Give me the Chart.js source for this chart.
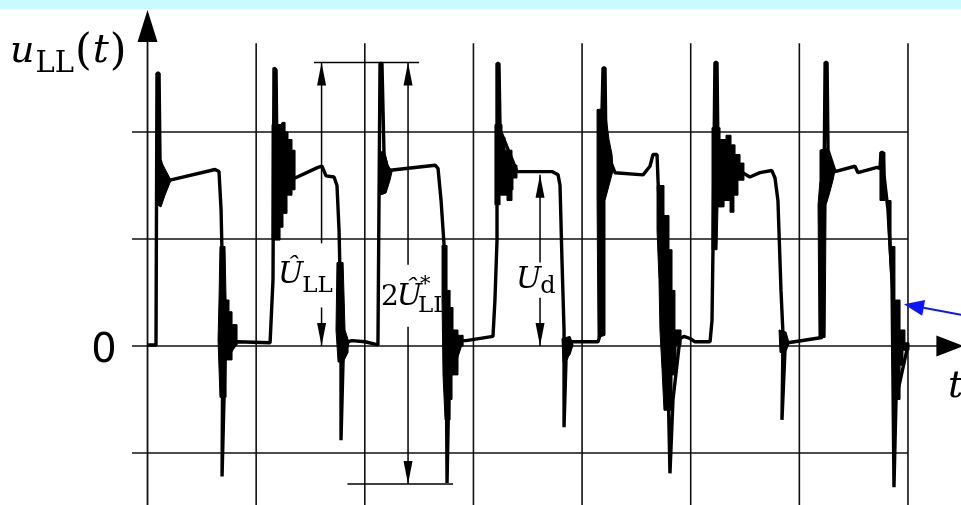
<!DOCTYPE html>
<html>
<head>
<meta charset="utf-8">
<script src="https://cdn.jsdelivr.net/npm/chart.js@4.4.1/dist/chart.umd.min.js"></script>
<style>
  html, body { margin: 0; padding: 0; background: #fff; overflow: hidden; }
  canvas { display: block; }
</style>
</head>
<body>
<canvas id="chart" width="961" height="505"></canvas>
<script>
// Line-to-line voltage u_LL(t) at the inverter output: PWM pulses with
// switching overshoot and high-frequency ringing on every edge.
// Time axis: 10 units per grid division. Voltage axis: 1 unit per grid division.

// ---- main trace, one pair of arrays per pulse ----
const pulse1T = [0.05, 0.78, 0.87, 1.06, 1.15, 1.70, 2.07, 6.21, 6.58, 6.77, 6.95, 6.86, 7.13, 8.24, 11.28];
const pulse1V = [0.01, 0.01, 2.55, 2.55, 1.74, 1.55, 1.55, 1.65, 1.63, 1.27, 0.43, -1.22, -0.13, 0.04, 0.03];

const pulse2T = [11.55, 11.64, 11.83, 11.92, 13.58, 15.69, 16.06, 16.43, 17.17, 17.44, 17.63, 17.81, 17.81, 18.00, 18.46, 18.82, 20.02, 21.21];
const pulse2V = [0.62, 2.60, 2.58, 1.74, 1.57, 1.67, 1.68, 1.59, 1.58, 1.50, 1.08, 0.24, -0.88, -0.13, 0.04, 0.05, 0.04, 0.01];

const pulse3T = [21.40, 21.58, 21.77, 22.14, 26.47, 26.74, 27.02, 27.30, 27.48, 27.57, 27.75, 28.95, 29.32, 31.80];
const pulse3V = [2.64, 2.64, 1.79, 1.64, 1.69, 1.66, 1.36, 0.94, 0.24, -1.28, -0.32, 0.05, 0.05, 0.09];

const pulse4T = [31.98, 32.17, 32.17, 32.35, 32.45, 34.01, 37.23, 37.79, 37.97, 38.15, 38.34, 38.34, 38.52, 39.08, 41.47];
const pulse4V = [0.43, 0.99, 2.64, 2.64, 2.02, 1.63, 1.63, 1.60, 1.50, 0.80, 0.15, -0.76, -0.13, 0.04, 0.04];

const pulse5T = [41.65, 41.84, 41.93, 42.11, 42.20, 43.03, 45.61, 46.25, 46.53, 46.90, 46.99, 47.36, 47.91, 48.09, 48.37, 49.01, 49.38, 49.93, 50.39, 51.78];
const pulse5V = [0.10, 2.21, 2.60, 2.60, 1.83, 1.62, 1.60, 1.68, 1.79, 1.79, 1.55, 0.80, -0.32, -1.19, -0.50, 0.07, 0.09, 0.07, 0.04, 0.04];

const pulse6T = [51.96, 52.05, 52.23, 52.42, 52.51, 54.62, 55.45, 56.37, 57.47, 57.76, 58.03, 58.31, 58.50, 58.40, 58.68, 58.96, 62.09];
const pulse6V = [0.24, 0.90, 2.65, 2.65, 1.83, 1.63, 1.58, 1.62, 1.64, 1.57, 1.36, 0.52, 0.10, -0.69, -0.04, 0.03, 0.08];

const pulse7T = [62.18, 62.37, 62.55, 62.64, 63.28, 65.12, 65.40, 67.15, 67.42, 67.52, 67.70, 67.79, 68.16, 68.53, 68.71, 68.90, 70.00];
const pulse7V = [0.43, 2.65, 2.65, 1.83, 1.63, 1.68, 1.62, 1.67, 1.66, 1.81, 1.81, 1.60, 1.27, 0.62, -1.32, -0.50, 0.01];

// ---- envelopes of the ringing bursts (closed outlines) ----
const ring1aT = [0.87, 1.43, 2.16, 1.61, 1.24, 0.87];
const ring1aV = [1.79, 1.69, 1.55, 1.41, 1.30, 1.32];
const ring1bT = [6.67, 7.13, 7.23, 7.50, 7.50, 7.78, 7.78, 8.24, 8.24, 7.78, 7.78, 7.23, 7.23, 6.67, 6.49, 6.58];
const ring1bV = [0.93, 0.93, 0.43, 0.43, 0.32, 0.32, 0.20, 0.20, 0.01, 0.01, -0.13, -0.13, -0.48, -0.48, 0.06, 0.43];

const ring2aT = [11.46, 11.46, 12.29, 12.38, 12.66, 12.66, 12.93, 12.93, 13.30, 13.30, 13.58, 13.58, 13.30, 13.30, 12.84, 12.84, 12.47, 12.47, 12.20, 12.20];
const ring2aV = [0.99, 2.07, 2.07, 2.09, 2.09, 2.00, 2.00, 1.93, 1.93, 1.83, 1.83, 1.46, 1.46, 1.41, 1.41, 1.24, 1.24, 1.11, 1.11, 0.99];
const ring2bT = [17.44, 18.00, 18.18, 18.46, 18.46, 18.00, 17.54, 17.35];
const ring2bV = [0.78, 0.78, 0.15, 0.06, -0.06, -0.15, -0.15, 0.15];

const ring3aT = [21.31, 21.77, 22.14, 22.51, 22.32, 21.95, 21.40];
const ring3aV = [1.80, 1.83, 1.69, 1.63, 1.55, 1.43, 1.41];
const ring3bT = [27.11, 27.57, 27.57, 27.85, 27.85, 28.12, 28.12, 28.58, 28.58, 29.05, 29.05, 28.58, 28.58, 28.03, 28.03, 27.85, 27.85, 27.39, 27.20, 27.11];
const ring3bV = [0.94, 0.94, 0.52, 0.52, 0.36, 0.36, 0.15, 0.15, 0.10, 0.10, 0.00, 0.00, -0.27, -0.27, -0.50, -0.50, -0.69, -0.69, -0.27, 0.43];

const ring4aT = [31.98, 32.63, 32.63, 32.91, 32.91, 33.55, 33.55, 34.01, 34.01, 33.64, 33.64, 33.55, 33.55, 33.09, 33.09, 32.45, 32.45, 31.98];
const ring4aV = [2.07, 2.07, 1.95, 1.95, 1.83, 1.83, 1.69, 1.69, 1.57, 1.57, 1.46, 1.46, 1.36, 1.36, 1.41, 1.41, 1.32, 1.32];
const ring4bT = [38.15, 38.89, 39.17, 38.89, 38.25];
const ring4bV = [0.07, 0.09, 0.01, -0.08, -0.15];

const ring5aT = [41.38, 42.11, 42.48, 42.76, 42.85, 42.48, 42.11, 42.11, 41.47, 41.38];
const ring5aV = [2.21, 2.22, 1.93, 1.79, 1.64, 1.50, 1.36, 0.10, 0.08, 1.36];
const ring5bT = [46.90, 47.54, 47.54, 48.00, 48.00, 48.28, 48.28, 48.55, 48.55, 49.11, 49.11, 48.65, 48.65, 48.28, 48.28, 47.54, 47.36, 47.17, 47.08, 46.90];
const ring5bV = [1.50, 1.50, 1.22, 1.22, 0.90, 0.90, 0.52, 0.52, 0.15, 0.15, 0.01, 0.01, -0.27, -0.27, -0.60, -0.60, -0.22, 0.15, 0.62, 1.08];

const ring6aT = [51.96, 52.70, 52.70, 53.25, 53.25, 53.71, 53.71, 54.08, 54.08, 54.54, 54.54, 54.90, 54.90, 54.35, 54.35, 53.98, 53.98, 53.62, 53.62, 53.07, 53.07, 52.51, 52.42, 51.96];
const ring6aV = [2.04, 2.04, 1.93, 1.93, 1.97, 1.97, 1.88, 1.88, 1.79, 1.79, 1.71, 1.71, 1.55, 1.55, 1.41, 1.41, 1.25, 1.25, 1.36, 1.36, 1.30, 1.30, 0.90, 0.90];
const ring6bT = [58.13, 58.77, 59.05, 58.68, 58.22];
const ring6bV = [0.15, 0.13, 0.03, -0.06, -0.06];

const ring7aT = [61.90, 62.46, 62.82, 63.28, 63.10, 62.73, 62.46, 62.37, 61.81, 61.72, 61.90];
const ring7aV = [1.83, 1.85, 1.74, 1.64, 1.55, 1.41, 1.32, 0.08, 0.08, 1.32, 1.55];
const ring7bT = [67.42, 67.88, 67.88, 67.42];
const ring7bV = [1.81, 1.81, 1.36, 1.36];
const ring7cT = [68.07, 68.44, 68.44, 68.80, 68.80, 69.27, 69.27, 69.72, 69.72, 70.09, 70.09, 69.54, 69.54, 69.27, 69.27, 68.80, 68.62, 68.53, 68.25];
const ring7cV = [1.36, 1.36, 0.93, 0.93, 0.43, 0.43, 0.15, 0.15, 0.03, 0.03, -0.04, -0.04, -0.18, -0.18, -0.50, -0.50, -0.13, 0.43, 0.93];

// ---- grid ----
const gridTimes = [0, 10, 20, 30, 40, 50, 60, 70];
const gridLevels = [2, 1, -1];

// ---- reference levels for the dimension arrows ----
const peakLevel = 2.65;     // highest overshoot
const troughLevel = -1.29;  // deepest undershoot
const dcLevel = 1.60;       // DC-link voltage Ud

function zipPoints(ts, vs) { return ts.map((t, i) => ({ x: t, y: vs[i] })); }

const pulsesT = [pulse1T, pulse2T, pulse3T, pulse4T, pulse5T, pulse6T, pulse7T];
const pulsesV = [pulse1V, pulse2V, pulse3V, pulse4V, pulse5V, pulse6V, pulse7V];
const trace = [];
pulsesT.forEach((ts, i) => trace.push(...zipPoints(ts, pulsesV[i])));

// A (practically endless) dash keeps the stroke solid while making Chart.js
// trace every vertex exactly instead of merging points per pixel column.
const SOLID_EXACT = [100000, 0];

const rings = [
  [ring1aT, ring1aV], [ring1bT, ring1bV], [ring2aT, ring2aV], [ring2bT, ring2bV],
  [ring3aT, ring3aV], [ring3bT, ring3bV], [ring4aT, ring4aV], [ring4bT, ring4bV],
  [ring5aT, ring5aV], [ring5bT, ring5bV], [ring6aT, ring6aV], [ring6bT, ring6bV],
  [ring7aT, ring7aV], [ring7bT, ring7bV], [ring7cT, ring7cV]
];
const ringSets = rings.map(([ts, vs]) => {
  const pts = zipPoints(ts, vs);
  pts.push({ ...pts[0] });
  return {
    data: pts,
    borderColor: '#000',
    backgroundColor: '#000',
    borderWidth: 1,
    borderDash: SOLID_EXACT,
    pointRadius: 0,
    tension: 0,
    fill: 'shape'
  };
});

const X_MIN = -13.58, X_MAX = 74.88, Y_MIN = -1.486, Y_MAX = 3.234;

function seg(ctx, x1, y1, x2, y2) {
  ctx.beginPath(); ctx.moveTo(x1, y1); ctx.lineTo(x2, y2); ctx.stroke();
}
function head(ctx, tx, ty, fx, fy, len, half) {
  // filled arrowhead with its tip at (tx,ty), pointing away from (fx,fy)
  const dx = tx - fx, dy = ty - fy, d = Math.hypot(dx, dy) || 1;
  const ux = dx / d, uy = dy / d;
  const bx = tx - ux * len, by = ty - uy * len;
  ctx.beginPath();
  ctx.moveTo(tx, ty);
  ctx.lineTo(bx - uy * half, by + ux * half);
  ctx.lineTo(bx + uy * half, by - ux * half);
  ctx.closePath();
  ctx.fill();
}

const frame = {
  id: 'frame',
  beforeDatasetsDraw(chart) {
    const { ctx, scales: { x, y } } = chart;
    const px = t => x.getPixelForValue(t), py = v => y.getPixelForValue(v);
    ctx.save();
    ctx.fillStyle = '#c8fbff';
    ctx.fillRect(0, 0, chart.width, 9);

    ctx.strokeStyle = '#111';
    ctx.fillStyle = '#000';
    ctx.lineWidth = 1.6;
    gridTimes.forEach(t => { if (t !== 0) seg(ctx, px(t), py(2.83), px(t), py(Y_MIN)); });
    gridLevels.forEach(v => seg(ctx, px(-1.43), py(v), px(70), py(v)));
    // time axis
    seg(ctx, px(-1.43), py(0), px(73), py(0));
    head(ctx, px(75.1), py(0), px(70), py(0), 27, 10.5);
    // voltage axis
    ctx.lineWidth = 1.8;
    seg(ctx, px(0), py(Y_MIN), px(0), py(2.9));
    head(ctx, px(0), py(3.14), px(0), py(0), 32, 10);
    ctx.restore();
  },
  afterDatasetsDraw(chart) {
    const { ctx, scales: { x, y } } = chart;
    const px = t => x.getPixelForValue(t), py = v => y.getPixelForValue(v);
    ctx.save();
    ctx.strokeStyle = '#000';
    ctx.fillStyle = '#000';
    ctx.lineWidth = 1.5;

    // reference lines for the peak-to-peak dimension
    seg(ctx, px(15.33), py(peakLevel), px(25.0), py(peakLevel));
    seg(ctx, px(18.4), py(troughLevel), px(28.12), py(troughLevel));
    ctx.lineWidth = 1.2;
    seg(ctx, px(34.1), py(1.64), px(37.2), py(1.64));
    ctx.lineWidth = 1.5;

    // peak value arrow
    const tA = 16.02;
    seg(ctx, px(tA), py(peakLevel), px(tA), py(0.96));
    seg(ctx, px(tA), py(0.36), px(tA), py(0));
    head(ctx, px(tA), py(peakLevel), px(tA), py(0), 23, 4.5);
    head(ctx, px(tA), py(0), px(tA), py(1), 23, 4.5);

    // peak-to-peak arrow
    const tB = 23.98;
    seg(ctx, px(tB), py(peakLevel), px(tB), py(0.76));
    seg(ctx, px(tB), py(0.18), px(tB), py(troughLevel));
    head(ctx, px(tB), py(peakLevel), px(tB), py(0), 23, 4.5);
    head(ctx, px(tB), py(troughLevel), px(tB), py(0), 23, 4.5);

    // DC-link voltage arrow
    const tC = 36.13;
    seg(ctx, px(tC), py(dcLevel), px(tC), py(0.78));
    seg(ctx, px(tC), py(0.45), px(tC), py(0));
    head(ctx, px(tC), py(dcLevel), px(tC), py(0), 23, 4.5);
    head(ctx, px(tC), py(0), px(tC), py(1), 23, 4.5);

    // blue pointer to the ringing on the last edge
    ctx.strokeStyle = '#0a14ff';
    ctx.fillStyle = '#0a14ff';
    ctx.lineWidth = 2;
    seg(ctx, px(71.3), py(0.36), px(76), py(0.27));
    head(ctx, px(69.63), py(0.39), px(76), py(0.27), 20, 8);

    // texts
    ctx.fillStyle = '#000';
    ctx.textBaseline = 'alphabetic';
    ctx.textAlign = 'left';
    const serif = '"DejaVu Serif", serif';
    function run(parts, x0) {
      let xx = x0;
      parts.forEach(p => {
        ctx.font = p.f;
        xx += (p.dx || 0);
        ctx.fillText(p.s, xx, p.y);
        xx += ctx.measureText(p.s).width;
      });
      return xx;
    }
    // axis title
    run([
      { s: 'u', f: 'italic 38px ' + serif, y: 62 },
      { s: 'LL', f: '29px ' + serif, y: 72, dx: 1 },
      { s: '(', f: '43px ' + serif, y: 64, dx: 1 },
      { s: 't', f: 'italic 40px ' + serif, y: 62, dx: 1 },
      { s: ')', f: '43px ' + serif, y: 64, dx: 1 }
    ], 10);
    // zero label
    ctx.font = '40px "DejaVu Sans", sans-serif';
    ctx.textAlign = 'center';
    ctx.fillText('0', 104, 362);
    ctx.textAlign = 'left';
    // time label
    ctx.font = 'italic 38px ' + serif;
    ctx.fillText('t', 948, 397);

    // Û_LL
    run([
      { s: 'Û', f: 'italic 30px ' + serif, y: 283 },
      { s: 'LL', f: '23px ' + serif, y: 292, dx: -1 }
    ], 278);
    // 2Û*_LL
    const after = run([
      { s: '2', f: '28px ' + serif, y: 305 },
      { s: 'Û', f: 'italic 30px ' + serif, y: 305, dx: -2 }
    ], 381);
    ctx.font = '21px ' + serif;
    ctx.fillText('*', after - 2, 290);
    ctx.font = '23px ' + serif;
    ctx.fillText('LL', after - 4, 312);
    // U_d
    run([
      { s: 'U', f: 'italic 30px ' + serif, y: 288 },
      { s: 'd', f: '24px ' + serif, y: 293, dx: -1 }
    ], 516);
    ctx.restore();
  }
};

new Chart(document.getElementById('chart'), {
  type: 'line',
  data: {
    datasets: [{
      data: trace,
      borderColor: '#000',
      borderWidth: 3.4,
      borderDash: SOLID_EXACT,
      pointRadius: 0,
      tension: 0,
      fill: false,
      borderJoinStyle: 'bevel',
      borderCapStyle: 'butt'
    }, ...ringSets]
  },
  options: {
    responsive: false,
    animation: false,
    events: [],
    layout: { padding: 0 },
    plugins: { legend: { display: false }, tooltip: { enabled: false } },
    scales: {
      x: { type: 'linear', min: X_MIN, max: X_MAX, display: false },
      y: { type: 'linear', min: Y_MIN, max: Y_MAX, display: false }
    }
  },
  plugins: [frame]
});
</script>
</body>
</html>
